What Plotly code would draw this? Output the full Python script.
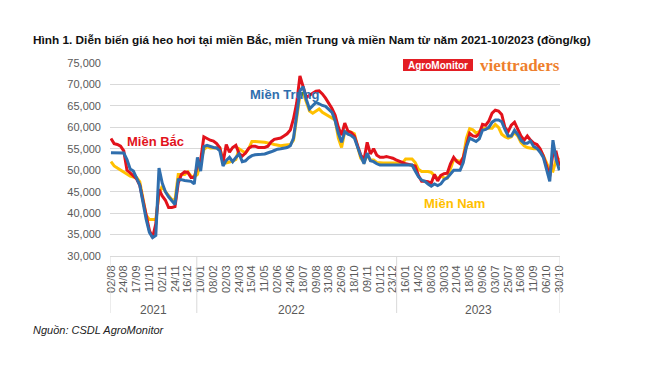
import plotly.graph_objects as go

tick_labels = ["02/08", "24/08", "17/09", "11/10", "02/11", "24/11", "16/12",
               "10/01", "08/02", "02/03", "24/03", "15/04", "11/05", "02/06", "24/06", "18/07",
               "09/08", "31/08", "26/09", "18/10", "09/11", "01/12", "23/12",
               "16/01", "14/02", "08/03", "30/03", "21/04", "18/05", "09/06", "03/07", "25/07",
               "16/08", "11/09", "06/10", "30/10"]
years = ["2021", "2022", "2023"]

# prices in thousand VND/kg, 4 samples per labelled interval
mien_bac = [57.4, 56.2, 56.0, 55.6, 54.5, 50.0, 49.4, 48.8, 48.0, 46.5,
            43.0, 39.0, 36.0, 34.3, 37.5, 45.5, 44.0, 43.0, 41.3, 41.3,
            41.5, 47.0, 49.0, 49.6, 49.5, 48.3, 48.3, 51.0, 52.3, 57.8,
            57.3, 57.0, 56.8, 56.2, 55.2, 51.8, 56.0, 54.2, 55.3, 55.8,
            53.9, 53.3, 54.0, 55.1, 55.6, 55.6, 55.3, 55.3, 55.3, 55.6,
            56.6, 57.2, 57.3, 57.5, 58.0, 58.5, 59.4, 62.0, 65.7, 72.0,
            69.5, 66.9, 67.5, 68.0, 68.4, 68.5, 67.8, 66.8, 65.7, 64.4,
            62.8, 60.0, 58.2, 61.0, 59.1, 58.8, 58.0, 55.5, 53.5, 52.4,
            56.5, 53.8, 55.0, 53.5, 53.0, 53.0, 53.2, 53.0, 52.8, 52.4,
            52.0, 51.8, 51.5, 51.3, 51.2, 51.0, 48.8, 47.4, 47.4, 47.3,
            47.0, 49.0, 47.5, 48.8, 49.2, 49.3, 51.5, 53.0, 52.0, 51.5,
            53.0, 56.0, 58.6, 58.0, 57.9, 58.5, 60.7, 60.5, 61.5, 63.3,
            64.0, 63.8, 63.0, 60.0, 59.0, 60.5, 61.2, 59.6, 58.0, 57.0,
            58.0, 57.0, 56.3, 56.0, 55.0, 53.3, 51.0, 48.6, 54.0, 54.2,
            51.0]
mien_trung = [54.1, 54.1, 54.0, 54.0, 54.0, 52.5, 50.3, 49.8, 48.0, 46.5,
              42.5, 38.5, 35.5, 34.3, 34.8, 50.5, 47.0, 45.0, 43.8, 42.8,
              42.0, 47.8, 47.8, 47.6, 47.5, 47.4, 46.8, 53.0, 49.8, 55.5,
              55.8, 55.5, 55.3, 55.2, 54.5, 51.0, 52.3, 53.0, 52.0, 53.0,
              53.8, 52.0, 52.2, 52.9, 53.4, 53.6, 53.6, 53.7, 53.8, 54.0,
              54.3, 54.6, 54.9, 55.0, 55.1, 55.3, 55.7, 57.5, 63.0, 68.5,
              69.5, 66.5, 64.3, 65.0, 65.8, 65.5, 65.1, 64.9, 64.2, 63.5,
              61.5, 58.6, 56.5, 59.0, 58.4, 58.1, 57.5, 55.2, 53.3, 51.5,
              54.0, 52.2, 52.0, 51.5, 51.2, 51.2, 51.2, 51.2, 51.2, 51.2,
              51.2, 51.2, 51.2, 51.2, 51.2, 49.8, 48.5, 47.7, 47.4, 46.8,
              46.3, 46.8, 46.4, 46.8, 47.8, 48.2, 49.0, 50.0, 50.0, 50.0,
              51.8, 55.5, 57.5, 57.0, 56.7, 57.3, 59.3, 59.5, 60.0, 61.2,
              61.7, 61.7, 61.3, 59.5, 58.0, 58.0, 59.3, 58.3, 57.0, 56.3,
              56.3, 56.8, 55.5, 55.1, 54.2, 53.0, 50.5, 47.4, 57.0, 52.5,
              50.0]
mien_nam = [52.0, 51.0, 50.5, 50.0, 49.6, 49.0, 48.6, 48.4, 48.3, 47.3,
            43.5, 39.5, 38.5, 38.5, 38.5, 44.5, 46.3, 45.0, 44.0, 43.2,
            43.0, 49.0, 49.0, 49.0, 49.6, 48.6, 48.4, 49.0, 52.0, 54.8,
            55.5, 55.2, 55.2, 55.2, 55.2, 52.0, 51.7, 51.9, 52.1, 52.5,
            55.0, 54.5, 54.0, 55.0, 56.7, 56.7, 56.7, 56.6, 56.5, 56.4,
            56.2, 56.0, 55.8, 55.7, 55.8, 55.9, 56.0, 57.0, 62.5, 67.5,
            68.0, 66.0, 63.8, 63.3, 63.8, 64.3, 63.5, 63.0, 62.6, 62.2,
            61.7, 57.5, 55.3, 59.0, 59.1, 58.9, 58.5, 55.5, 52.8, 51.9,
            53.5, 52.4, 52.4, 51.8, 51.7, 51.7, 51.7, 51.7, 51.7, 51.7,
            51.7, 51.7, 52.6, 52.6, 52.6, 51.8, 50.2, 49.7, 49.7, 49.7,
            49.5, 48.7, 48.0, 48.7, 48.2, 48.2, 50.5, 52.5, 52.3, 52.0,
            53.0, 57.5, 59.7, 59.4, 58.7, 59.0, 59.8, 59.8, 59.8, 59.8,
            60.7, 60.0, 58.4, 57.8, 57.5, 57.8, 58.8, 58.0, 56.5, 55.7,
            55.3, 55.1, 55.0, 55.0, 54.7, 53.4, 51.8, 50.0, 49.8, 52.5,
            52.9]

STEP = 4
n = len(mien_bac)
xs = list(range(n))
tickvals = [i * STEP for i in range(len(tick_labels))]

RED = "#E2121B"
BLUE = "#2F6EAD"
GOLD = "#FFC000"
GRAY = "#595959"
FONT = "Liberation Sans, Arial, sans-serif"

# The page body has an 8px margin; work in page pixels and offset.
OFF = 8
W, H = 650 - OFF, 366 - OFF
L, R, T, B = 110, 560, 63, 256   # plot area in page pixels
def px(x):
    return (x - L) / (R - L)
def py(y):
    return (B - y) / (B - T)

fig = go.Figure()
for name, vals, col in [("Miền Nam", mien_nam, GOLD),
                        ("Miền Bắc", mien_bac, RED),
                        ("Miền Trung", mien_trung, BLUE)]:
    fig.add_trace(go.Scatter(x=xs, y=[v * 1000 for v in vals], mode="lines",
                             name=name, line=dict(color=col, width=3)))

shapes = []
for xv in [-0.3, 26.8, 89.2, n - 1 + 0.2]:
    shapes.append(dict(type="line", xref="x", yref="paper", x0=xv, x1=xv,
                       y0=0, y1=py(313), line=dict(color="#D9D9D9", width=1)))
shapes.append(dict(type="rect", xref="paper", yref="paper",
                   x0=px(403), x1=px(473), y0=py(71), y1=py(59),
                   fillcolor="#E31E24", line=dict(width=0)))

ann = [
    dict(text="<b>Hình 1. Diễn biến giá heo hơi tại miền Bắc, miền Trung và miền Nam từ năm 2021-10/2023 (đồng/kg)</b>",
         x=px(31), y=py(40), xanchor="left", yanchor="middle",
         font=dict(size=11.8, color="#111111", family=FONT)),
    dict(text="<i>Nguồn: CSDL AgroMonitor</i>", x=px(31), y=py(330),
         xanchor="left", yanchor="middle", font=dict(size=11, color="#222222", family=FONT)),
    dict(text="<b>AgroMonitor</b>", x=px(438), y=py(65), xanchor="center", yanchor="middle",
         font=dict(size=10, color="white", family=FONT)),
    dict(text="<b>viettraders</b>", x=px(520), y=py(65), xanchor="center", yanchor="middle",
         font=dict(size=17, color="#EE7F2D", family="Liberation Serif, DejaVu Serif, serif")),
    dict(text="<b>Miền Bắc</b>", x=px(155), y=py(141), xanchor="center", yanchor="middle",
         font=dict(size=13, color=RED, family=FONT)),
    dict(text="<b>Miền Trung</b>", x=px(284), y=py(94), xanchor="center", yanchor="middle",
         font=dict(size=13, color=BLUE, family=FONT)),
    dict(text="<b>Miền Nam</b>", x=px(454), y=py(203), xanchor="center", yanchor="middle",
         font=dict(size=13, color=GOLD, family=FONT)),
]
for yr, xc in zip(years, [153, 291, 478]):
    ann.append(dict(text=yr, x=px(xc), y=py(310), xanchor="center", yanchor="middle",
                    font=dict(size=12, color=GRAY, family=FONT)))
for a in ann:
    a.setdefault("xref", "paper")
    a.setdefault("yref", "paper")
    a["showarrow"] = False

fig.update_layout(
    width=W, height=H,
    margin=dict(l=L - OFF, r=650 - R, t=T - OFF, b=366 - B),
    paper_bgcolor="white", plot_bgcolor="white",
    showlegend=False,
    shapes=shapes, annotations=ann,
    xaxis=dict(range=[-0.3, n - 1 + 0.2], tickmode="array", tickvals=tickvals,
               ticktext=tick_labels, tickangle=-90, showgrid=False,
               showline=True, linecolor="#D9D9D9", linewidth=1, zeroline=False,
               tickfont=dict(size=11, color=GRAY, family=FONT), ticks="",
               ticklabelstandoff=4),
    yaxis=dict(range=[30000, 75000], dtick=5000, tickformat=",", showgrid=True,
               gridcolor="#D9D9D9", gridwidth=1, zeroline=False, showline=False,
               tickfont=dict(size=11, color=GRAY, family=FONT), ticks="",
               ticklabelstandoff=8),
)

fig.write_html("out.html")
